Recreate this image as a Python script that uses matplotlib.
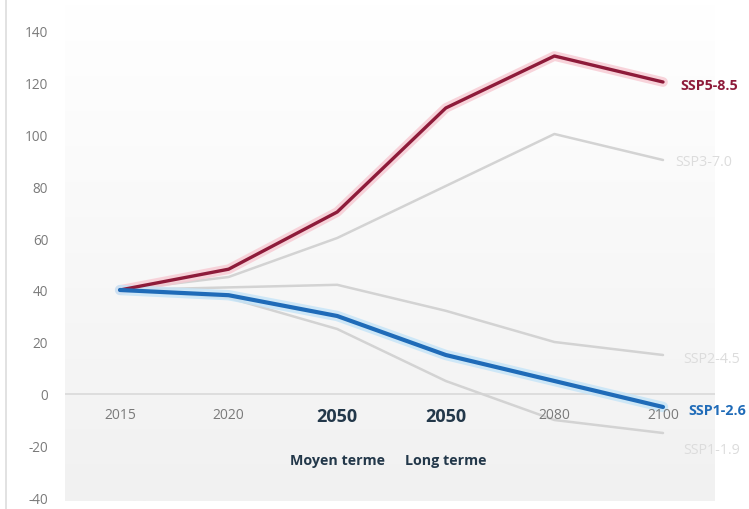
import matplotlib
matplotlib.use("Agg")
import matplotlib.pyplot as plt
import numpy as np
from matplotlib.colors import LinearSegmentedColormap

plt.rcParams['font.family'] = ['Open Sans', 'DejaVu Sans']

categories = ["2015", "2020", "2050", "2050", "2080", "2100"]
sub_labels = ["", "", "Moyen terme", "Long terme", "", ""]
ssp585 = [40, 48, 70, 110, 130, 120]
ssp370 = [40, 45, 60, 80, 100, 90]
ssp245 = [40, 41, 42, 32, 20, 15]
ssp126 = [40, 38, 30, 15, 5, -5]
ssp119 = [40, 37, 25, 5, -10, -15]
yticks = [-40, -20, 0, 20, 40, 60, 80, 100, 120, 140]

W, H = 749, 510
fig = plt.figure(figsize=(W/100, H/100), dpi=100)
ax = fig.add_axes([65/W, 0, 650/W, 1])
x = np.arange(len(categories))

x0 = -(55/108.6)
x1 = 5 + 52/108.6
ylo = -40 - 11/2.6
yhi = 140 + 31/2.6
ax.set_xlim(x0, x1)
ax.set_ylim(ylo, yhi)

# gradient background
grad = np.linspace(0, 1, 256).reshape(-1, 1)
cmap = LinearSegmentedColormap.from_list("g", ["#f1f1f1", "#ffffff"])
ax.imshow(grad, extent=[x0, x1, -41, 150], origin="lower", aspect="auto",
          cmap=cmap, zorder=0)

ax.axhline(0, color="#d9d9d9", lw=1.2, zorder=1)

gray = "#d3d3d3"
for s in (ssp370, ssp245, ssp119):
    ax.plot(x, s, color=gray, lw=1.8, zorder=2, solid_capstyle="round")

red = "#8e1b3a"
blue = "#1f6bb8"
ax.plot(x, ssp585, color="#f7c9d2", lw=7, alpha=0.8, zorder=3, solid_capstyle="round")
ax.plot(x, ssp585, color=red, lw=2.4, zorder=4, solid_capstyle="round")
ax.plot(x, ssp126, color="#c4e4f8", lw=7.5, alpha=0.8, zorder=3, solid_capstyle="round")
ax.plot(x, ssp126, color=blue, lw=3.0, zorder=4, solid_capstyle="round")

# end labels
lab_fs = 10.3
ax.text(5.16, ssp585[-1] - 1, "SSP5-8.5", color=red, fontsize=lab_fs, fontweight="bold", va="center", ha="left")
ax.text(5.115, ssp370[-1] - 0.5, "SSP3-7.0", color="#dcdcdc", fontsize=lab_fs, va="center", ha="left")
ax.text(5.185, ssp245[-1] - 1.5, "SSP2-4.5", color="#dcdcdc", fontsize=lab_fs, va="center", ha="left")
ax.text(5.23, ssp126[-1] - 1, "SSP1-2.6", color=blue, fontsize=lab_fs, fontweight="bold", va="center", ha="left")
ax.text(5.185, ssp119[-1] - 6.5, "SSP1-1.9", color="#dcdcdc", fontsize=lab_fs, va="center", ha="left")

# x labels
for i, c in enumerate(categories):
    if c == "2050":
        ax.text(i, -8.5, c, color="#23384a", fontsize=13, fontweight="bold", ha="center", va="center")
    else:
        ax.text(i, -7.7, c, color="#7a7a7a", fontsize=10, ha="center", va="center")
    if sub_labels[i]:
        ax.text(i, -25.5, sub_labels[i], color="#23384a", fontsize=10.3, fontweight="bold", ha="center", va="center")

ax.set_yticks(yticks)
ax.set_yticklabels([str(v) for v in yticks], color="#7a7a7a", fontsize=9.8)
ax.tick_params(axis="y", length=0, pad=12)
ax.set_xticks([])
for s in ax.spines.values():
    s.set_visible(False)

# left border line
fig.add_artist(plt.Line2D([6/W, 6/W], [0, 1], color="#dddddd", lw=1.2, transform=fig.transFigure))

fig.savefig("out.png", dpi=100, facecolor="white")
